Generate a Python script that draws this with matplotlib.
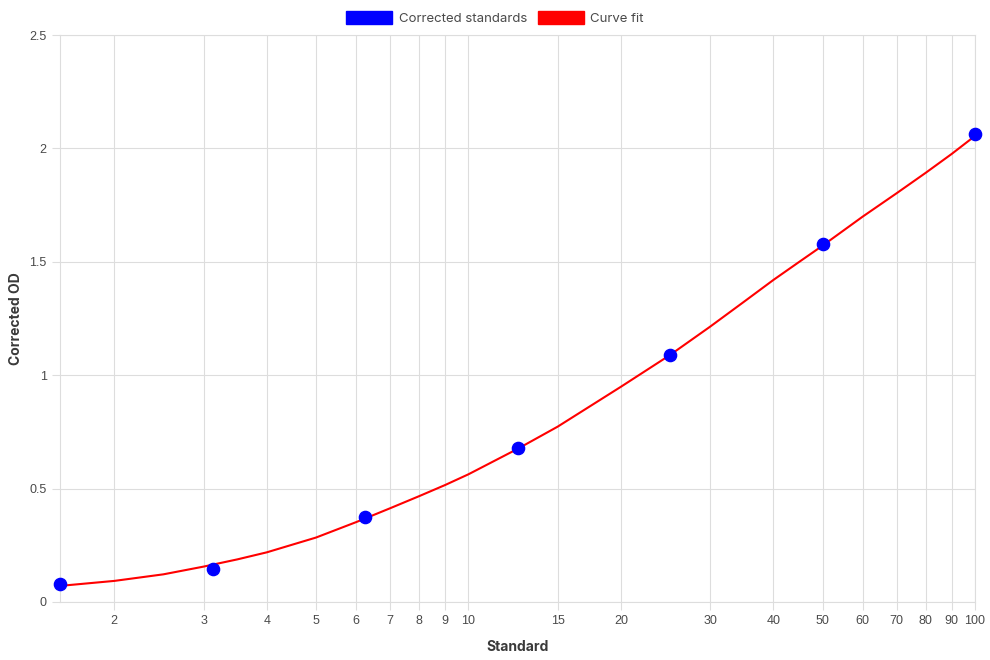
import matplotlib
matplotlib.use("Agg")
import matplotlib.pyplot as plt
from matplotlib.patches import Patch
from matplotlib.ticker import FixedLocator, NullLocator, FuncFormatter

# standards (concentration) and corrected OD
standard = [1.5625, 3.125, 6.25, 12.5, 25, 50, 100]
corrected_od = [0.079, 0.146, 0.376, 0.677, 1.089, 1.579, 2.064]

# curve fit
fit_x = [1.5625, 2, 2.5, 3, 3.5, 4, 5, 6, 7, 8, 9, 10, 12.5, 15, 20, 25, 30, 35, 40,
         45, 50, 60, 70, 80, 90, 100]
fit_y = [0.071, 0.093, 0.122, 0.156, 0.188, 0.219, 0.284, 0.352, 0.413, 0.467, 0.516, 0.563,
         0.675, 0.773, 0.949, 1.089, 1.214, 1.324, 1.420, 1.500, 1.571, 1.699, 1.802, 1.893,
         1.976, 2.055]

xticks = [2, 3, 4, 5, 6, 7, 8, 9, 10, 15, 20, 30, 40, 50, 60, 70, 80, 90, 100]
yticks = [0, 0.5, 1, 1.5, 2, 2.5]

grid_c = "#dddddd"
text_c = "#4a4a4a"

fig = plt.figure(figsize=(9.9, 6.6), dpi=100)
ax = fig.add_axes([60 / 990, 58 / 660, 915 / 990, 567 / 660])

ax.plot(fit_x, fit_y, color="#ff0000", lw=1.5, zorder=3, clip_on=False)
ax.plot(standard, corrected_od, "o", color="#0000ff", ms=8.8, mec="#0000ff", zorder=4, clip_on=False)

ax.set_xscale("log")
ax.set_xlim(1.5625, 100)
ax.set_ylim(0, 2.5)
ax.xaxis.set_major_locator(FixedLocator(xticks))
ax.xaxis.set_minor_locator(NullLocator())
ax.xaxis.set_major_formatter(FuncFormatter(lambda v, p: "%g" % v))
ax.yaxis.set_major_locator(FixedLocator(yticks))
ax.yaxis.set_major_formatter(FuncFormatter(lambda v, p: "%g" % v))

ax.grid(True, color=grid_c, lw=0.8)
ax.set_axisbelow(True)
for s in ax.spines.values():
    s.set_color(grid_c)
    s.set_linewidth(0.8)
ax.tick_params(axis="both", color=grid_c, length=6, width=0.8, labelcolor=text_c,
               labelsize=9)
for lab in ax.get_xticklabels() + ax.get_yticklabels():
    lab.set_family(["Liberation Sans", "DejaVu Sans"])

ax.set_xlabel("Standard", fontsize=10, fontweight="bold", color="#3a3a3a",
              family=["Inter", "DejaVu Sans"], labelpad=9.5)
ax.set_ylabel("Corrected OD", fontsize=10, fontweight="bold", color="#3a3a3a",
              family=["Inter", "DejaVu Sans"], labelpad=5)

handles = [Patch(facecolor="#0000ff", edgecolor="#0000ff", label="Corrected standards"),
           Patch(facecolor="#ff0000", edgecolor="#ff0000", label="Curve fit")]
fig.legend(handles=handles, loc="upper center", bbox_to_anchor=(0.5, 1.0), ncol=2,
           frameon=False, handlelength=3.5, handleheight=1.1, handletextpad=0.5,
           columnspacing=0.8, prop={"family": "Inter", "size": 9.5}, labelcolor=text_c,
           borderaxespad=0.45)

fig.savefig("out.png", dpi=100)
